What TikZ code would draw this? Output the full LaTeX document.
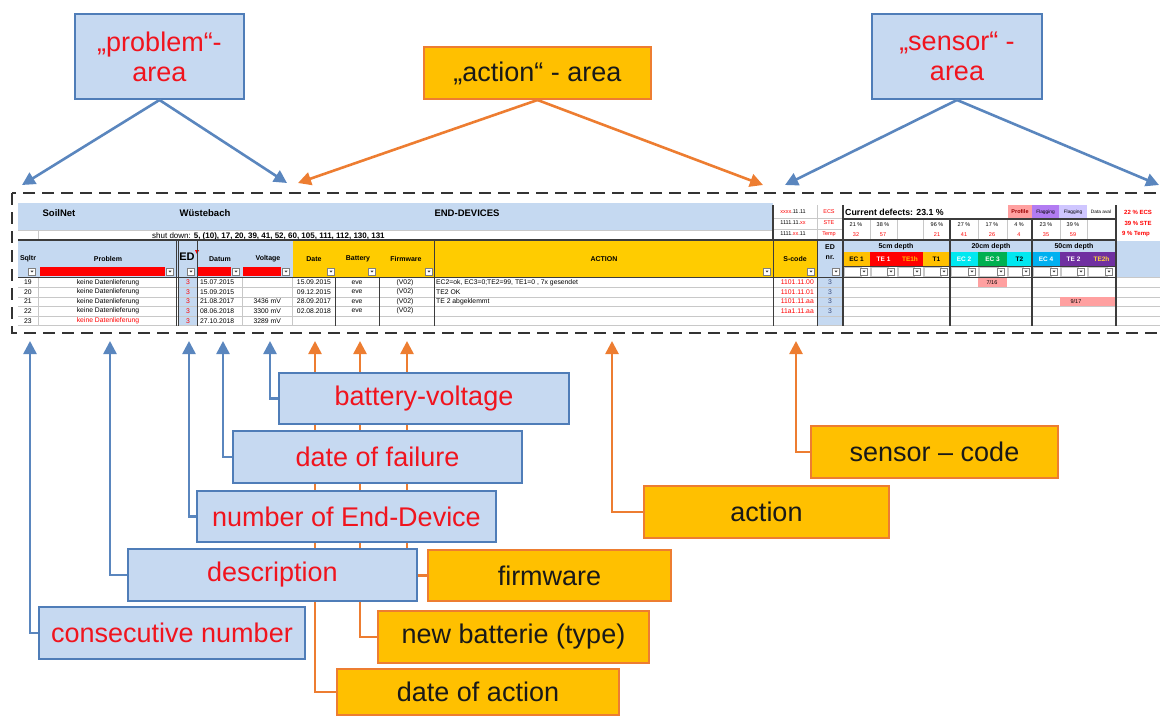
\documentclass[tikz,border=0pt]{standalone}
\usepackage{fontspec}
\setmainfont{Liberation Sans}
\usepackage{xcolor}
\usepackage{tikz}
\usetikzlibrary{positioning, arrows.meta, calc}
\definecolor{areablue}{HTML}{C6D9F1}
\definecolor{areaborder}{HTML}{4F7DB8}
\definecolor{arrowblue}{HTML}{5A86BE}
\definecolor{labelred}{HTML}{F0141E}
\definecolor{areaorange}{HTML}{FFC000}
\definecolor{orangeborder}{HTML}{ED7D31}
\definecolor{sheetblue}{HTML}{C5D9F1}
\definecolor{sheetyellow}{HTML}{FFCC00}
\definecolor{gridgray}{HTML}{C8C8C8}
\definecolor{darkline}{HTML}{3C3C3C}
\definecolor{sheetred}{HTML}{FF0000}
\definecolor{ednrblue}{HTML}{3A4A7A}
\definecolor{pinkcell}{HTML}{FFA0A0}
\definecolor{flagpurple}{HTML}{B27CF2}
\definecolor{flaglav}{HTML}{CFC6FF}
\definecolor{ecorange}{HTML}{FFC000}
\definecolor{ecred}{HTML}{FF0000}
\definecolor{eccyan}{HTML}{00E8F0}
\definecolor{ecgreen}{HTML}{00B050}
\definecolor{ecblue}{HTML}{00B0F0}
\definecolor{ecpurple}{HTML}{7030A0}
\definecolor{ecyellow}{HTML}{FFD23C}
\pgfdeclarelayer{background}
\pgfsetlayers{background,main}
\tikzset{
  areabox/.style={draw=areaborder, fill=areablue, line width=2pt, text=labelred,
    align=center, anchor=north west, inner sep=0pt, font=\fontsize{27}{30}\selectfont},
  actbox/.style={draw=orangeborder, fill=areaorange, line width=2pt, text=black!90,
    align=center, anchor=north west, inner sep=0pt, font=\fontsize{27}{30}\selectfont},
  bluelink/.style={draw=arrowblue, line width=2.6pt, -{Triangle[length=13pt,width=13pt]}},
  orangelink/.style={draw=orangeborder, line width=2.6pt, -{Triangle[length=13pt,width=13pt]}},
  cell/.style={inner sep=0pt, font=\fontsize{6.8}{7}\selectfont},
  headcell/.style={inner sep=0pt, font=\bfseries\fontsize{7}{8}\selectfont},
  titlecell/.style={inner sep=0pt, font=\bfseries\fontsize{9.5}{10}\selectfont},
  tinycell/.style={inner sep=0pt, font=\fontsize{5.5}{6}\selectfont},
  dropbtn/.style={draw=gray, fill=white, line width=0.4pt, minimum size=7pt, inner sep=0pt},
}

\begin{document}
\begin{tikzpicture}[x=1pt, y=-1pt]
  \useasboundingbox (0,0) rectangle (1162,716);

  % ---- spreadsheet excerpt ----
  \fill[sheetblue] (18,203) rectangle (773,230);
  \node[titlecell] (soilnet) at (59,213) {SoilNet};
  \node[titlecell] (place) at (205,213) {Wüstebach};
  \node[titlecell] (enddev) at (467,213) {END-DEVICES};
  \draw[gridgray] (18,230) -- (773,230);
  \draw[gridgray] (38,230) -- (38,240);
  \node[anchor=west, inner sep=0pt, font=\fontsize{8}{9}\selectfont] (shutdown) at (152,236)
    {shut down: \textbf{5, (10), 17, 20, 39, 41, 52, 60, 105, 111, 112, 130, 131}};

  % codes next to S-code
  \node[tinycell] (code1) at (793,212) {\textcolor{sheetred}{xxxx}.11.11};
  \node[tinycell] (code2) at (793,223) {1111.11.\textcolor{sheetred}{xx}};
  \node[tinycell] (code3) at (793,234) {1111.\textcolor{sheetred}{xx}.11};
  \node[tinycell, text=sheetred] (kind1) at (829,212) {ECS};
  \node[tinycell, text=sheetred] (kind2) at (829,223) {STE};
  \node[tinycell, text=sheetred] (kind3) at (829,234) {Temp};
  \draw[gridgray] (773,218) -- (843,218) (773,229) -- (843,229) (817,205) -- (817,240);

  % sensor summary rows
  \node[anchor=west, inner sep=0pt, font=\bfseries\fontsize{8.8}{9}\selectfont] (defects) at (845,212) {Current defects: 23.1 \%};
  \fill[pinkcell] (1008,205) rectangle (1032,219);
  \fill[flagpurple] (1032,205) rectangle (1059,219);
  \fill[flaglav] (1059,205) rectangle (1087,219);
  \node[tinycell, font=\bfseries\fontsize{5.5}{6}\selectfont, text=red!60!black] (profile) at (1020,212) {Profile};
  \node[tinycell, font=\fontsize{4.8}{5}\selectfont] (flag1) at (1045.5,212) {Flagging};
  \node[tinycell, font=\fontsize{4.8}{5}\selectfont] (flag2) at (1073,212) {Flagging};
  \node[tinycell, font=\fontsize{4.8}{5}\selectfont] (avail) at (1101,212) {Data aval};
  \foreach \xc/\pp/\nn [count=\k] in {856/21 \%/32, 883/38 \%/57, 937/96 \%/21, 964/27 \%/41,
      992/17 \%/26, 1019/4 \%/4, 1046/23 \%/35, 1073/39 \%/59} {
    \node[tinycell] (pct\k) at (\xc,224.5) {\pp};
    \node[tinycell, text=sheetred] (cnt\k) at (\xc,234.5) {\nn};
  }
  \node[tinycell, text=sheetred, font=\bfseries\fontsize{6}{6}\selectfont] (sum1) at (1138,212) {22 \% ECS};
  \node[tinycell, text=sheetred, font=\bfseries\fontsize{6}{6}\selectfont] (sum2) at (1138,223) {39 \% STE};
  \node[tinycell, text=sheetred, font=\bfseries\fontsize{6}{6}\selectfont] (sum3) at (1136,234) {9 \% Temp};

  % header row
  \fill[sheetblue] (18,241) rectangle (293,277);
  \fill[sheetyellow] (293,241) rectangle (817,277);
  \fill[sheetblue] (817,241) rectangle (843,326);
  \fill[sheetblue] (178,241) rectangle (197,326);
  \fill[sheetblue] (843,241) rectangle (1116,252);
  \fill[sheetblue] (1116,241) rectangle (1160,277);
  \fill[sheetred] (40,267) rectangle (165,276);
  \fill[sheetred] (198,267) rectangle (231,276);
  \fill[sheetred] (243,267) rectangle (281,276);
  \node[headcell] (hsq) at (28,259) {Sqltr};
  \node[headcell] (hpr) at (108,259) {Problem};
  \node[inner sep=0pt, font=\bfseries\fontsize{11}{12}\selectfont] (hed) at (187,257) {ED};
  \fill[sheetred] (195,250) -- (199,250) -- (197,254) -- cycle;
  \node[headcell] (hda) at (220,259) {Datum};
  \node[headcell] (hvo) at (268,259) {Voltage};
  \node[headcell] (hdt) at (314,259) {Date};
  \node[headcell] (hba) at (358,259) {Battery};
  \node[headcell] (hfw) at (406,259) {Firmware};
  \node[headcell] (hac) at (604,259) {ACTION};
  \node[headcell] (hsc) at (795,259) {S-code};
  \node[headcell] (hen) at (830,247) {ED};
  \node[headcell] (hnr) at (830,258) {nr.};
  \node[headcell] (depth1) at (896,247) {5cm depth};
  \node[headcell] (depth2) at (991,247) {20cm depth};
  \node[headcell] (depth3) at (1074,247) {50cm depth};

  % sensor columns
  \foreach \xa/\xb/\lab/\bg/\fg [count=\k] in {843/870/EC 1/ecorange/black, 870/897/TE 1/ecred/white,
      897/923/TE1h/ecred/ecorange, 923/950/T1/ecorange/black, 950/978/EC 2/eccyan/white,
      978/1007/EC 3/ecgreen/white, 1007/1032/T2/eccyan/black, 1032/1060/EC 4/ecblue/white,
      1060/1087/TE 2/ecpurple/white, 1087/1116/TE2h/ecpurple/ecyellow} {
    \fill[\bg] (\xa,252) rectangle (\xb,266);
    \node[headcell, font=\bfseries\fontsize{6.5}{7}\selectfont, text=\fg] (sens\k) at ({(\xa+\xb)/2},259) {\lab};
    \draw[gridgray] (\xa+1,267) rectangle (\xb-9,276);
    \draw[gridgray] (\xb,219) -- (\xb,240) (\xb,266) -- (\xb,277);
  }

  % filter buttons
  \foreach \xd [count=\k] in {32,170,191,236,286,331,372,429,767,811,836,
      864,891,917,944,972,1001,1026,1054,1081,1109} {
    \node[dropbtn] (drop\k) at (\xd,271.5) {};
    \fill[darkline] ($(drop\k.center)+(-1.5,-0.8)$) -- ++(3,0) -- ++(-1.5,1.8) -- cycle;
  }

  % data rows
  \foreach \i in {0,...,5} {
    \draw[gridgray] (18,{277.5+9.6*\i}) -- (1160,{277.5+9.6*\i});
  }
  \foreach \xv in {38,242,292,950,1032} {
    \draw[gridgray] (\xv,277) -- (\xv,326);
  }
  \fill[pinkcell] (978,277.5) rectangle (1007,287.1);
  \node[tinycell] (fail1) at (992,282.3) {7/16};
  \fill[pinkcell] (1060,296.7) rectangle (1116,306.3);
  \node[tinycell] (fail2) at (1076,301.5) {9/17};
  \foreach \sq/\da/\vo/\ad/\ba/\fw/\ac/\sc/\en/\pc [count=\i] in {
      19/15.07.2015//15.09.2015/eve/(V02)/{EC2=ok, EC3=0;TE2=99, TE1=0 , 7x gesendet}/1101.11.00/3/black,
      20/15.09.2015//09.12.2015/eve/(V02)/TE2 OK/1101.11.01/3/black,
      21/21.08.2017/3436 mV/28.09.2017/eve/(V02)/TE 2 abgeklemmt/1101.11.aa/3/black,
      22/08.06.2018/3300 mV/02.08.2018/eve/(V02)//11a1.11.aa/3/black,
      23/27.10.2018/3289 mV///////sheetred} {
    \pgfmathsetmacro{\yy}{277.5+9.6*(\i-0.5)}
    \node[cell] (sq\i) at (28,\yy) {\sq};
    \node[cell, text=\pc] (pr\i) at (108,\yy) {keine Datenlieferung};
    \node[cell, text=sheetred] (ed\i) at (188,\yy) {3};
    \node[cell, anchor=west] (da\i) at (200,\yy) {\da};
    \node[cell, anchor=east] (vo\i) at (281,\yy) {\vo};
    \node[cell] (dt\i) at (314,\yy) {\ad};
    \node[cell] (ba\i) at (357,\yy) {\ba};
    \node[cell] (fw\i) at (405,\yy) {\fw};
    \node[cell, anchor=west] (ac\i) at (436,\yy) {\ac};
    \node[cell, anchor=east, text=sheetred] (sc\i) at (814,\yy) {\sc};
    \node[cell, text=ednrblue] (en\i) at (830,\yy) {\en};
  }

  % strong sheet lines
  \draw[darkline, line width=2pt] (18,240) -- (1116,240);
  \draw[darkline, line width=1.2pt] (843,219) -- (1116,219);
  \draw[darkline, line width=1pt] (176,241) -- (176,326) (178.5,241) -- (178.5,326)
    (197,241) -- (197,326) (335,277) -- (335,326) (379,277) -- (379,326)
    (434,241) -- (434,326) (773,241) -- (773,326) (817,241) -- (817,326);
  \draw[darkline, line width=1.2pt] (773,205) -- (773,240) (843,205) -- (843,326)
    (950,219) -- (950,326) (1032,219) -- (1032,326) (1116,205) -- (1116,326);
  \draw[darkline, line width=0.8pt] (843,266) -- (1116,266) (18,277) -- (1116,277);

  \draw[black!80, line width=2pt, dash pattern=on 12pt off 7pt] (12,193) rectangle (1166,333);

  % ---- area boxes ----
  \node[areabox, minimum width=169pt, minimum height=85pt] (problem) at (74,13) {„problem“-\\area};
  \node[actbox, minimum width=227pt, minimum height=52pt] (actarea) at (423,46) {„action“ - area};
  \node[areabox, minimum width=170pt, minimum height=85pt] (sensor) at (871,13) {„sensor“ -\\area};

  \coordinate (probL) at (22,185);
  \coordinate (probR) at (287,183);
  \coordinate (actL) at (298,183);
  \coordinate (actR) at (763,185);
  \coordinate (sensL) at (785,185);
  \coordinate (sensR) at (1159,185);
  \draw[bluelink] (problem.south) -- (probL);
  \draw[bluelink] (problem.south) -- (probR);
  \draw[orangelink] (actarea.south) -- (actL);
  \draw[orangelink] (actarea.south) -- (actR);
  \draw[bluelink] (sensor.south) -- (sensL);
  \draw[bluelink] (sensor.south) -- (sensR);

  % ---- column labels ----
  \node[areabox, minimum width=290pt, minimum height=51pt] (batvolt) at (278,372) {battery-voltage};
  \node[areabox, minimum width=289pt, minimum height=52pt] (datefail) at (232,430) {date of failure};
  \node[areabox, minimum width=299pt, minimum height=51pt] (edevice) at (196,490) {number of End-Device};
  \node[areabox, minimum width=289pt, minimum height=52pt] (descr) at (127,548) {description};
  \node[areabox, minimum width=266pt, minimum height=52pt] (consec) at (38,606) {consecutive number};
  \node[actbox, minimum width=247pt, minimum height=52pt] (scode) at (810,425) {sensor – code};
  \node[actbox, minimum width=245pt, minimum height=52pt] (action) at (643,485) {action};
  \node[actbox, minimum width=243pt, minimum height=51pt] (firmware) at (427,549) {firmware};
  \node[actbox, minimum width=271pt, minimum height=52pt] (newbat) at (377,610) {new batterie (type)};
  \node[actbox, minimum width=282pt, minimum height=46pt] (dateact) at (336,668) {date of action};

  \coordinate (tSqltr) at (30,341);
  \coordinate (tProblem) at (110,341);
  \coordinate (tED) at (189,341);
  \coordinate (tDatum) at (223,341);
  \coordinate (tVolt) at (270,341);
  \coordinate (tDate) at (315,341);
  \coordinate (tBatt) at (360,341);
  \coordinate (tFirm) at (407,341);
  \coordinate (tAction) at (612,341);
  \coordinate (tScode) at (796,341);

  \begin{pgfonlayer}{background}
    \draw[orangelink] (dateact.west) -| (tDate);
    \draw[orangelink] (newbat.west) -| (tBatt);
    \draw[orangelink] (firmware.west) -| (tFirm);
  \end{pgfonlayer}
  \draw[orangelink] (action.west) -| (tAction);
  \draw[orangelink] (scode.west) -| (tScode);
  \draw[bluelink] (consec.west) -| (tSqltr);
  \draw[bluelink] (descr.west) -| (tProblem);
  \draw[bluelink] (edevice.west) -| (tED);
  \draw[bluelink] (datefail.west) -| (tDatum);
  \draw[bluelink] (batvolt.west) -| (tVolt);
\end{tikzpicture}
\end{document}
